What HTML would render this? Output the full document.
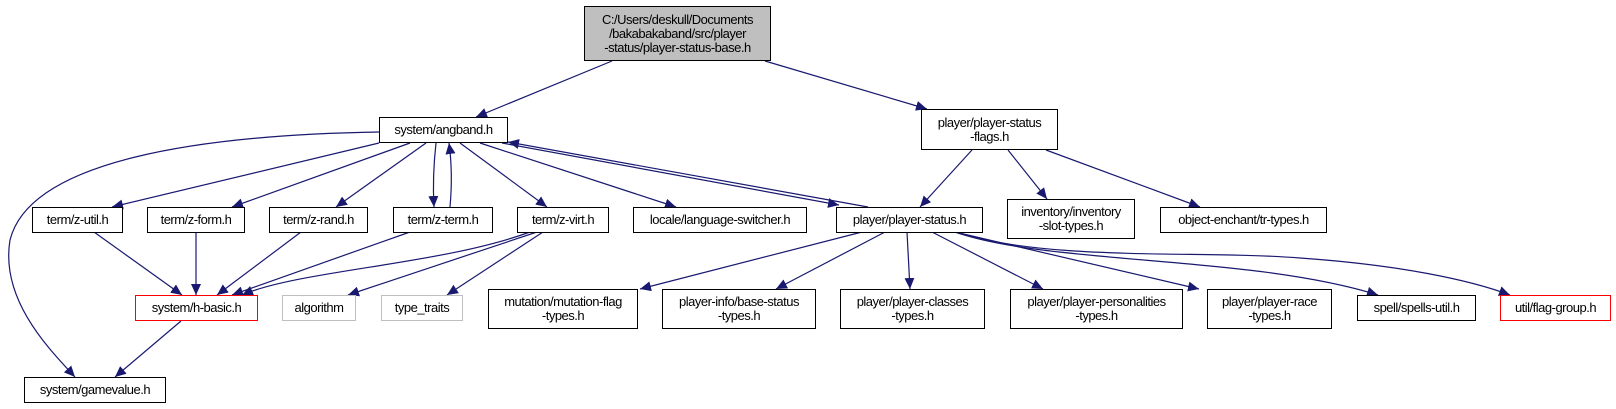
<!DOCTYPE html>
<html><head><meta charset="utf-8"><style>
body{margin:0;background:#fff;}
.n{position:absolute;box-sizing:border-box;border:1px solid #000;background:#fff;font-family:"Liberation Sans",sans-serif;font-size:13px;line-height:14px;text-align:center;display:flex;align-items:center;justify-content:center;color:#000;white-space:nowrap;letter-spacing:-0.5px}
.g{border-color:#bfbfbf}.r{border-color:#ff0000}
</style></head><body>
<div style="position:relative;width:1616px;height:409px;overflow:hidden">
<svg width="1616" height="409" style="position:absolute;left:0;top:0">
<defs><marker id="a" markerUnits="userSpaceOnUse" markerWidth="12" markerHeight="10" refX="11" refY="5" orient="auto"><path d="M0,0 L11,5 L0,10 z" fill="#191970"/></marker></defs>
<g fill="none" stroke="#191970" stroke-width="1.2" marker-end="url(#a)">
<path d="M612,61 L476,117"/>
<path d="M765,61 L927,109"/>
<path d="M379,132 C200,135 30,160 10,240 C0,300 50,350 75,377"/>
<path d="M379,143 L112,207"/>
<path d="M410,143 L232,207"/>
<path d="M426,143 L336,207"/>
<path d="M436,143 C433,170 433,190 434,207"/>
<path d="M450,207 C452,185 452,165 449,143"/>
<path d="M460,143 L547,207"/>
<path d="M480,143 L676,207"/>
<path d="M502,143 L839,205"/>
<path d="M868,207 L508,142"/>
<path d="M972,150 L920,207"/>
<path d="M1008,150 L1047,199"/>
<path d="M1046,150 L1200,207"/>
<path d="M94,232 L182,295"/>
<path d="M196,232 L196,295"/>
<path d="M301,232 L217,295"/>
<path d="M410,232 L232,295"/>
<path d="M530,232 C440,265 300,270 242,295"/>
<path d="M537,232 L348,295"/>
<path d="M543,232 L447,295"/>
<path d="M181,321 L115,377"/>
<path d="M862,232 L640,289"/>
<path d="M885,232 L776,289"/>
<path d="M907,232 L910,289"/>
<path d="M932,232 L1043,289"/>
<path d="M955,232 L1199,289"/>
<path d="M955,232 C1050,265 1250,255 1378,295"/>
<path d="M955,232 C1050,262 1200,250 1300,258 C1400,265 1470,280 1510,295"/>
</g>
</svg>
<div class="n" style="left:584px;top:6px;width:187px;height:55px;background:#bfbfbf">C:/Users/deskull/Documents<br>/bakabakaband/src/player<br>-status/player-status-base.h</div>
<div class="n" style="left:379px;top:117px;width:129px;height:26px">system/angband.h</div>
<div class="n" style="left:921px;top:109px;width:137px;height:41px">player/player-status<br>-flags.h</div>
<div class="n" style="left:32px;top:207px;width:91px;height:26px">term/z-util.h</div>
<div class="n" style="left:147px;top:207px;width:98px;height:26px">term/z-form.h</div>
<div class="n" style="left:269px;top:207px;width:99px;height:26px">term/z-rand.h</div>
<div class="n" style="left:393px;top:207px;width:100px;height:26px">term/z-term.h</div>
<div class="n" style="left:517px;top:207px;width:92px;height:26px">term/z-virt.h</div>
<div class="n" style="left:633px;top:207px;width:174px;height:26px">locale/language-switcher.h</div>
<div class="n" style="left:836px;top:207px;width:147px;height:26px">player/player-status.h</div>
<div class="n" style="left:1007px;top:199px;width:128px;height:40px">inventory/inventory<br>-slot-types.h</div>
<div class="n" style="left:1160px;top:207px;width:167px;height:26px">object-enchant/tr-types.h</div>
<div class="n r" style="left:135px;top:295px;width:123px;height:26px">system/h-basic.h</div>
<div class="n g" style="left:282px;top:295px;width:74px;height:26px">algorithm</div>
<div class="n g" style="left:381px;top:295px;width:82px;height:26px">type_traits</div>
<div class="n" style="left:488px;top:289px;width:150px;height:40px">mutation/mutation-flag<br>-types.h</div>
<div class="n" style="left:662px;top:289px;width:154px;height:40px">player-info/base-status<br>-types.h</div>
<div class="n" style="left:840px;top:289px;width:145px;height:40px">player/player-classes<br>-types.h</div>
<div class="n" style="left:1010px;top:289px;width:173px;height:40px">player/player-personalities<br>-types.h</div>
<div class="n" style="left:1207px;top:289px;width:125px;height:40px">player/player-race<br>-types.h</div>
<div class="n" style="left:1357px;top:295px;width:119px;height:26px">spell/spells-util.h</div>
<div class="n r" style="left:1500px;top:295px;width:111px;height:26px">util/flag-group.h</div>
<div class="n" style="left:24px;top:377px;width:142px;height:26px">system/gamevalue.h</div>
</div>
</body></html>
